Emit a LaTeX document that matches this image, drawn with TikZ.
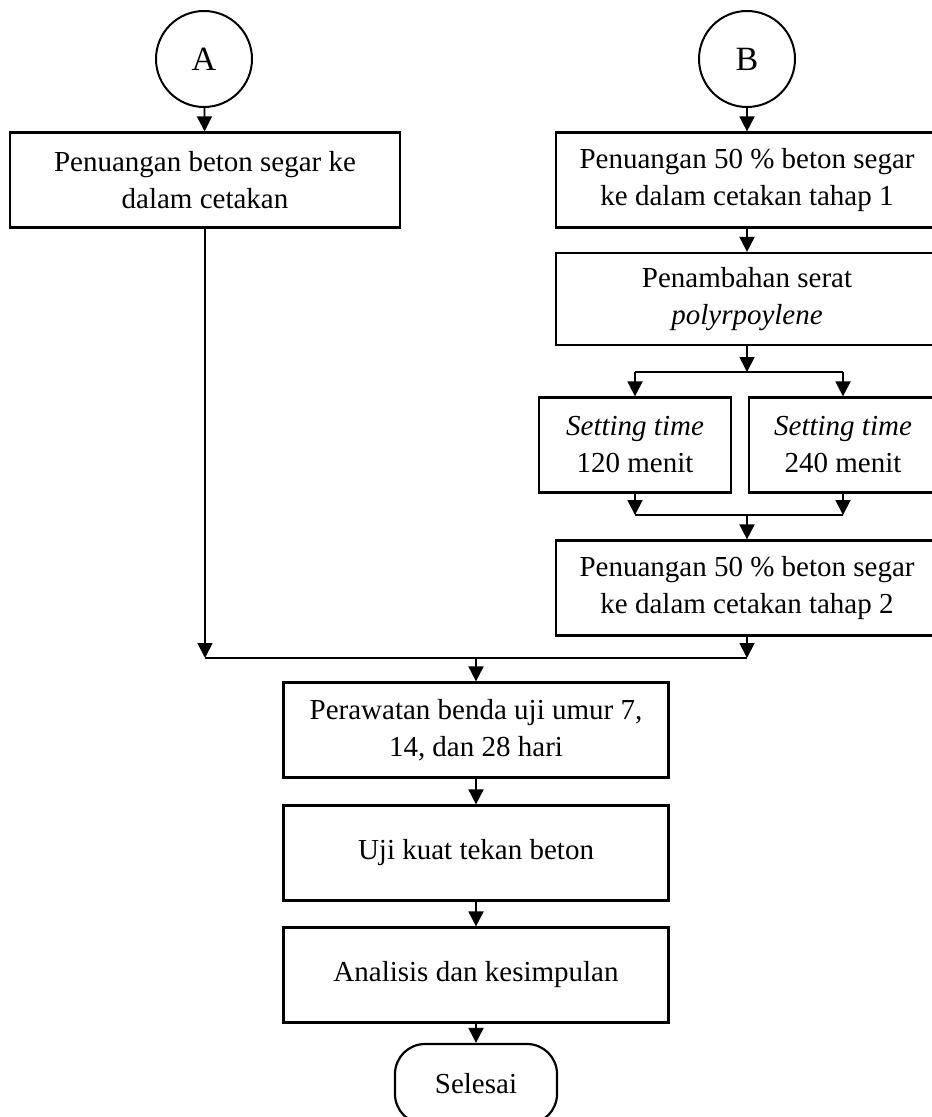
\documentclass[tikz,border=0pt]{standalone}
\usepackage{fontspec}
\setmainfont{Liberation Serif}
\usetikzlibrary{arrows.meta}

\begin{document}
\begin{tikzpicture}[x=0.5pt,y=-0.5pt,
        font=\fontsize{14.5}{18.5}\selectfont,
        kotak/.style={draw,line width=1.1pt,align=center,minimum height=47.5pt,inner sep=2pt},
        konektor/.style={circle,draw,line width=1pt,minimum size=48pt,inner sep=0pt,font=\fontsize{17}{20}\selectfont},
        panah/.style={-{Triangle[width=7.5pt,length=7.5pt]},line width=0.9pt},
        garis/.style={line width=0.6pt}]
        \useasboundingbox (0,0) rectangle (931,1117);
        % Connectors A and B
        \node[konektor] (A) at (204,59) {A};
        \node[konektor] (B) at (747,59) {B};
        % Left branch
        \node[kotak,minimum width=195pt] (tuang) at (205,180) {Penuangan beton segar ke\\dalam cetakan};
        % Right branch
        \node[kotak,minimum width=191pt] (tuang1) at (747,180) {Penuangan 50 \% beton segar\\ke dalam cetakan tahap 1};
        \node[kotak,minimum width=191pt,minimum height=46pt] (serat) at (747,299) {Penambahan serat\\\textit{polyrpoylene}};
        \node[kotak,minimum width=96pt] (set120) at (635,445) {\textit{Setting time}\\120 menit};
        \node[kotak,minimum width=94pt] (set240) at (843,445) {\textit{Setting time}\\240 menit};
        \node[kotak,minimum width=191pt] (tuang2) at (747,588) {Penuangan 50 \% beton segar\\ke dalam cetakan tahap 2};
        % Middle column
        \node[kotak,minimum width=192.5pt] (rawat) at (476,730) {Perawatan benda uji umur 7,\\14, dan 28 hari};
        \node[kotak,minimum width=192.5pt] (uji) at (476,853) {Uji kuat tekan beton};
        \node[kotak,minimum width=192.5pt] (analisis) at (476,975) {Analisis dan kesimpulan};
        \node[draw,line width=1.1pt,rounded corners=15pt,minimum width=81pt,minimum height=40pt] (selesai) at (476,1084) {Selesai};
        % Branch points
        \coordinate (pisah) at (747,372);
        \coordinate (pisahkiri) at (635,372);
        \coordinate (pisahkanan) at (843,372);
        \coordinate (gabkiri) at (635,515);
        \coordinate (gabkanan) at (843,515);
        \coordinate (gab) at (747,515);
        \coordinate (temukiri) at (205,658);
        \coordinate (temukanan) at (747,658);
        \coordinate (temu) at (476,658);
        % Edges
        \draw[panah] (A) -- (tuang);
        \draw[panah] (B) -- (tuang1);
        \draw[panah] (tuang1) -- (serat);
        \draw[panah] (serat) -- (pisah);
        \draw[garis] (pisahkiri) -- (pisahkanan);
        \draw[panah] (pisahkiri) -- (set120);
        \draw[panah] (pisahkanan) -- (set240);
        \draw[panah] (set120) -- (gabkiri);
        \draw[panah] (set240) -- (gabkanan);
        \draw[garis] (gabkiri) -- (gabkanan);
        \draw[panah] (gab) -- (tuang2);
        \draw[panah] (tuang) -- (temukiri);
        \draw[panah] (tuang2) -- (temukanan);
        \draw[garis] (temukiri) -- (temukanan);
        \draw[panah] (temu) -- (rawat);
        \draw[panah] (rawat) -- (uji);
        \draw[panah] (uji) -- (analisis);
        \draw[panah] (analisis) -- (selesai);
    \end{tikzpicture}
\end{document}
